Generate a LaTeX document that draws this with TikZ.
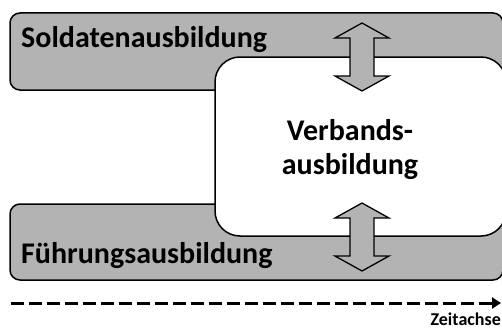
\documentclass[tikz,border=0pt]{standalone}
\usepackage{fontspec}
\setmainfont{Carlito}
\usetikzlibrary{arrows.meta}
\definecolor{boxgray}{RGB}{179,179,179}
\tikzset{
  band/.style={draw=black, line width=1.5pt, fill=boxgray, rounded corners=10pt},
  core/.style={draw=black, line width=1.5pt, fill=white, rounded corners=25pt},
  dblarrow/.style={draw=black, line width=1.3pt, fill=boxgray, line join=miter},
  lbl/.style={font=\bfseries\fontsize{30}{36}\selectfont, inner sep=0pt},
}
\begin{document}
\begin{tikzpicture}[x=1pt,y=-1pt]
\useasboundingbox (0,0) rectangle (502,329);
% bands
\draw[band] (10,13) rectangle (503,90);
\draw[band] (10,204) rectangle (503,280);
% central box
\draw[core] (215,57) rectangle (506,236);
% double arrows
\draw[dblarrow] (362,23) -- (389,38) -- (374,38) -- (374,76) -- (389,76) -- (362,91)
  -- (335,76) -- (350,76) -- (350,38) -- (335,38) -- cycle;
\draw[dblarrow] (362,203) -- (389,218) -- (374,218) -- (374,256) -- (389,256) -- (362,271)
  -- (335,256) -- (350,256) -- (350,218) -- (335,218) -- cycle;
% labels
\node[lbl, anchor=base west] (sold) at (21,48) {Soldatenausbildung};
\node[lbl, anchor=base west] (fuehr) at (21,263) {Führungsausbildung};
\node[lbl, anchor=base] (verb) at (350,140) {Verbands-};
\node[lbl, anchor=base] (ausb) at (350,174) {ausbildung};
% time axis
\coordinate (ta) at (11,303);
\coordinate (tb) at (501,303);
\draw[line width=3pt, dash pattern=on 13pt off 5pt, -{Triangle[length=9pt,width=11pt]}] (ta) -- (tb);
\node[inner sep=0pt, anchor=base east, font=\bfseries\fontsize{18}{21}\selectfont] (zeit) at (501,325) {Zeitachse};
\end{tikzpicture}
\end{document}
